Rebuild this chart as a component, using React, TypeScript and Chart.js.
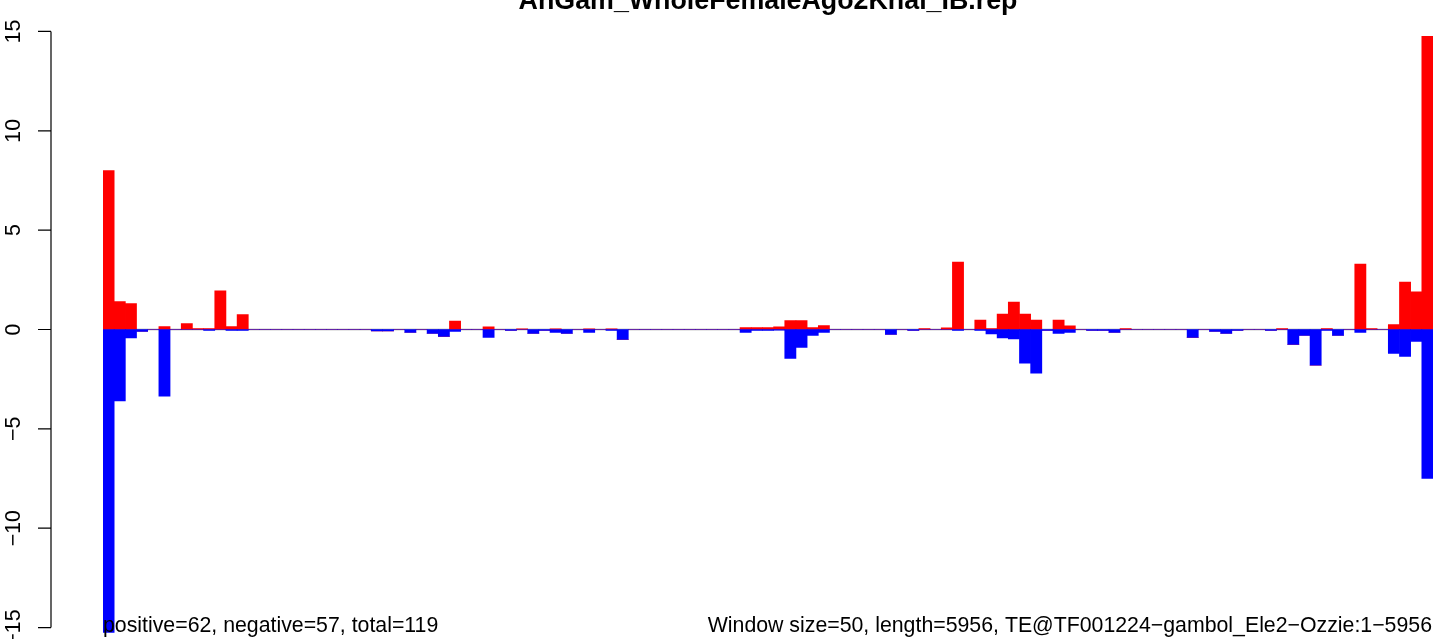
import React, { useEffect, useRef } from "react";
import { Chart, registerables } from "chart.js";

Chart.register(...registerables);

const TITLE = "AnGam_WholeFemaleAgo2Khai_IB.rep";
const LEFT_NOTE = "positive=62, negative=57, total=119";
const RIGHT_NOTE = "Window size=50, length=5956, TE@TF001224\u2212gambol_Ele2\u2212Ozzie:1\u22125956";

const Y_TICKS = [-15, -10, -5, 0, 5, 10, 15];
const Y_TICK_LABELS = ["\u221215", "\u221210", "\u22125", "0", "5", "10", "15"];

// positive (sense) coverage per window, 119 windows
const POSITIVE = [
  8.0, 1.4, 1.3, 0, 0, 0.15, 0, 0.3, 0.05, 0.05,
  1.95, 0.15, 0.75, 0, 0, 0, 0, 0, 0, 0,
  0, 0, 0, 0, 0, 0, 0, 0, 0, 0,
  0, 0.43, 0, 0, 0.13, 0, 0, 0.03, 0, 0,
  0.03, 0, 0, 0.03, 0, 0.03, 0, 0, 0, 0,
  0, 0, 0, 0, 0, 0, 0, 0.1, 0.1, 0.1,
  0.13, 0.45, 0.45, 0.1, 0.2, 0, 0, 0, 0, 0,
  0, 0, 0, 0.05, 0, 0.08, 3.39, 0, 0.48, 0.05,
  0.78, 1.38, 0.78, 0.48, 0, 0.48, 0.18, 0, 0, 0,
  0, 0.05, 0, 0, 0, 0, 0, 0, 0, 0,
  0, 0, 0, 0, 0, 0.05, 0, 0, 0, 0.05,
  0, 0, 3.29, 0.05, 0, 0.25, 2.39, 1.89, 14.75,
];

// negative (antisense) coverage per window
const NEGATIVE = [
  -15.25, -3.6, -0.43, -0.1, 0, -3.35, 0, 0, 0, -0.05,
  0, -0.05, -0.05, 0, 0, 0, 0, 0, 0, 0,
  0, 0, 0, 0, -0.07, -0.07, 0, -0.15, 0, -0.2,
  -0.35, -0.1, 0, 0, -0.4, 0, -0.05, 0, -0.2, -0.05,
  -0.15, -0.2, 0, -0.15, 0, -0.05, -0.5, 0, 0, 0,
  0, 0, 0, 0, 0, 0, 0, -0.15, -0.05, -0.05,
  -0.03, -1.45, -0.9, -0.3, -0.15, 0, 0, 0, 0, 0,
  -0.25, 0, -0.05, 0, 0, 0, -0.05, 0, -0.05, -0.22,
  -0.42, -0.47, -1.7, -2.2, -0.05, -0.2, -0.15, 0, -0.05, -0.05,
  -0.15, 0, 0, 0, 0, 0, 0, -0.4, 0, -0.1,
  -0.2, -0.05, 0, 0, -0.05, 0, -0.75, -0.3, -1.8, -0.05,
  -0.3, 0, -0.15, 0, 0, -1.2, -1.35, -0.6, -7.5,
];

const WINDOWS = POSITIVE.map((_, i) => String(i + 1));

const FONT = "'Liberation Sans', Arial, Helvetica, sans-serif";

const decorPlugin = {
  id: "rDecor",
  beforeDatasetsDraw(chart: any) {
    const { ctx, chartArea, scales } = chart;
    const y0 = scales.y.getPixelForValue(0);
    ctx.save();
    ctx.strokeStyle = "#999999";
    ctx.lineWidth = 1.6;
    ctx.beginPath();
    ctx.moveTo(chartArea.left, y0);
    ctx.lineTo(chartArea.right, y0);
    ctx.stroke();
    ctx.restore();
  },
  afterDatasetsDraw(chart: any) {
    const { ctx, scales } = chart;
    const ys = scales.y;
    ctx.save();
    const axisX = 51;
    const top = ys.getPixelForValue(Y_TICKS[Y_TICKS.length - 1]);
    const bot = ys.getPixelForValue(Y_TICKS[0]);
    ctx.strokeStyle = "#000";
    ctx.lineWidth = 1.2;
    ctx.beginPath();
    ctx.moveTo(axisX, top);
    ctx.lineTo(axisX, bot);
    Y_TICKS.forEach((t) => {
      const py = ys.getPixelForValue(t);
      ctx.moveTo(axisX - 13, py);
      ctx.lineTo(axisX, py);
    });
    ctx.stroke();
    ctx.fillStyle = "#000";
    ctx.font = `21.3px ${FONT}`;
    ctx.textAlign = "center";
    ctx.textBaseline = "alphabetic";
    Y_TICKS.forEach((t, i) => {
      const py = ys.getPixelForValue(t);
      ctx.save();
      ctx.translate(20, py);
      ctx.rotate(-Math.PI / 2);
      ctx.fillText(Y_TICK_LABELS[i], 0, 0);
      ctx.restore();
    });
    ctx.font = `bold 26.8px ${FONT}`;
    ctx.textAlign = "center";
    ctx.fillText(TITLE, 768, 9);
    ctx.font = `21.3px ${FONT}`;
    ctx.textAlign = "left";
    ctx.fillText(LEFT_NOTE, 103, 632);
    ctx.textAlign = "right";
    ctx.fillText(RIGHT_NOTE, 1432, 632);
    ctx.restore();
  },
};

export default function App() {
  const ref = useRef<HTMLCanvasElement | null>(null);
  useEffect(() => {
    if (!ref.current) return;
    const chart = new Chart(ref.current, {
      type: "bar",
      data: {
        labels: WINDOWS,
        datasets: [
          {
            label: "negative",
            data: NEGATIVE,
            backgroundColor: "#0000FF",
            borderWidth: 0,
            barPercentage: 1,
            categoryPercentage: 1,
          },
          {
            label: "positive",
            data: POSITIVE,
            backgroundColor: "#FF0000",
            borderWidth: 0,
            barPercentage: 1,
            categoryPercentage: 1,
          },
        ],
      },
      options: {
        responsive: false,
        animation: false,
        devicePixelRatio: 1,
        layout: { padding: { top: 21.5, bottom: 1.5, left: 103, right: 3 } },
        plugins: {
          legend: { display: false },
          tooltip: { enabled: false },
          title: { display: false },
        },
        scales: {
          x: { display: false, stacked: true, offset: true },
          y: { display: false, stacked: true, min: -15.5, max: 15.5 },
        },
      },
      plugins: [decorPlugin],
    });
    return () => chart.destroy();
  }, []);
  return (
    <div style={{ position: "absolute", left: 0, top: 0, width: 1436, height: 639, background: "#fff" }}>
      <canvas ref={ref} width={1436} height={639} style={{ width: 1436, height: 639, display: "block" }} />
    </div>
  );
}
